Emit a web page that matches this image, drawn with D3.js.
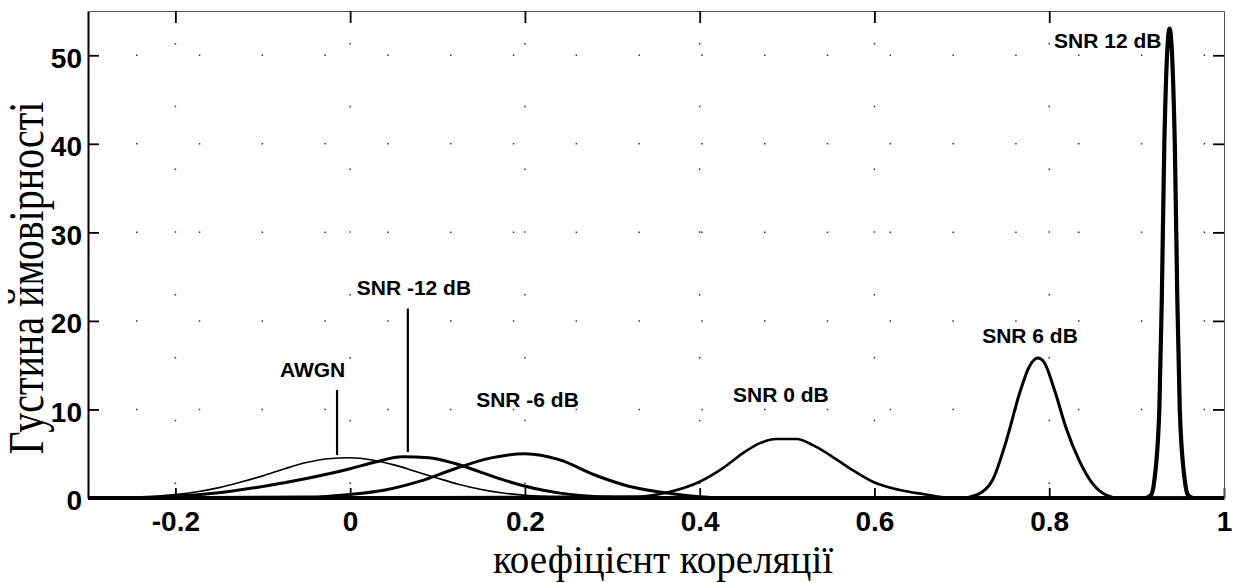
<!DOCTYPE html>
<html>
<head>
<meta charset="utf-8">
<script src="https://cdn.jsdelivr.net/npm/d3@7"></script>
<style>
  body { margin: 0; background: #fff; }
  svg { display: block; }
</style>
</head>
<body>
<div id="chart"></div>
<script>
// tick values
var xTicks = [-0.2, 0, 0.2, 0.4, 0.6, 0.8, 1];
var xTickLabels = ["-0.2", "0", "0.2", "0.4", "0.6", "0.8", "1"];
var yTicks = [0, 10, 20, 30, 40, 50];

// density curves, [correlation, density] pairs
var awgn = [[-0.3, 0], [-0.24, 0.13], [-0.2, 0.38], [-0.175, 0.7], [-0.15, 1.17], [-0.125, 1.8],
  [-0.1, 2.5], [-0.075, 3.3], [-0.05, 4.0], [-0.025, 4.43], [0, 4.54], [0.025, 4.3],
  [0.05, 3.74], [0.075, 3.0], [0.1, 2.24], [0.125, 1.52], [0.15, 0.96], [0.175, 0.56],
  [0.2, 0.3], [0.25, 0.07], [0.3, 0], [1, 0]];
var snrM12 = [[-0.3, 0], [-0.22, 0.05], [-0.2, 0.2], [-0.15, 0.6], [-0.1, 1.3], [-0.05, 2.2],
  [0, 3.3], [0.03, 4.1], [0.06, 4.65], [0.09, 4.55], [0.12, 3.9], [0.15, 2.9], [0.18, 1.9],
  [0.21, 1.1], [0.24, 0.55], [0.27, 0.22], [0.3, 0.07], [0.33, 0], [1, 0]];
var snrM6 = [[-0.3, 0], [-0.05, 0.1], [0, 0.4], [0.04, 0.9], [0.08, 1.9], [0.12, 3.3],
  [0.16, 4.5], [0.2, 5.0], [0.24, 4.3], [0.28, 2.6], [0.32, 1.3], [0.36, 0.6], [0.4, 0.15],
  [0.43, 0], [1, 0]];
var snr0 = [[-0.3, 0], [0.33, 0.15], [0.366, 0.7], [0.4, 1.84], [0.427, 3.4], [0.45, 5.1],
  [0.469, 6.2], [0.488, 6.66], [0.511, 6.66], [0.529, 6.0], [0.549, 4.85], [0.571, 3.4],
  [0.598, 1.84], [0.629, 0.9], [0.655, 0.45], [0.69, 0], [1, 0]];
var snr6 = [[-0.3, 0], [0.7, 0], [0.717, 0.34], [0.735, 2.0], [0.751, 6.5], [0.766, 11.8],
  [0.777, 14.8], [0.787, 15.8], [0.794, 15.35], [0.806, 12.2], [0.819, 8.0], [0.834, 4.3],
  [0.849, 1.7], [0.865, 0.34], [0.88, 0], [1, 0]];
var snr12 = [[-0.3, 0], [0.91, 0], [0.9163, 0.3], [0.9203, 2], [0.926, 10], [0.9288, 22.3],
  [0.9317, 40], [0.9377, 53], [0.9437, 40], [0.9466, 22.3], [0.9494, 10], [0.9551, 2],
  [0.959, 0.3], [0.965, 0], [1, 0]];

// annotations: text, x, y (data units)
var labels = [
  ["AWGN", -0.043, 13.65],
  ["SNR -12 dB", 0.073, 22.9],
  ["SNR -6 dB", 0.203, 10.3],
  ["SNR 0 dB", 0.493, 10.8],
  ["SNR 6 dB", 0.778, 17.5],
  ["SNR 12 dB", 0.867, 50.8]
];
// pointer lines: x, top, bottom (data units)
var pointers = [[-0.015, 12.2, 4.85], [0.066, 21.4, 5.2]];

var margin = {top: 11, right: 15, bottom: 85, left: 88},
    width = 1239 - margin.left - margin.right,
    height = 583 - margin.top - margin.bottom;

var svg = d3.select("#chart")
  .append("svg")
    .attr("width", 1239)
    .attr("height", 583)
  .append("g")
    .attr("transform", "translate(" + margin.left + "," + margin.top + ")");

var x = d3.scaleLinear().domain([-0.3, 1]).range([0, width]);
var y = d3.scaleLinear().domain([0, 55]).range([height, 0]);

// dotted grid
svg.append("g")
  .selectAll("line")
  .data(yTicks.slice(1))
  .enter()
  .append("line")
    .attr("x1", 0).attr("x2", width)
    .attr("y1", function(d) { return y(d); })
    .attr("y2", function(d) { return y(d); })
    .attr("stroke", "#333")
    .attr("stroke-width", 1.5)
    .attr("stroke-dasharray", "1.5,61.3")
    .attr("stroke-dashoffset", -48);
svg.append("g")
  .selectAll("line")
  .data(xTicks.slice(0, -1))
  .enter()
  .append("line")
    .attr("x1", function(d) { return x(d); })
    .attr("x2", function(d) { return x(d); })
    .attr("y1", height).attr("y2", 0)
    .attr("stroke", "#333")
    .attr("stroke-width", 1.5)
    .attr("stroke-dasharray", "1.5,61.3")
    .attr("stroke-dashoffset", -14);

// axes, ticks pointing inside
var xAxis = svg.append("g")
  .attr("transform", "translate(0," + height + ")")
  .call(d3.axisBottom(x).tickValues(xTicks)
    .tickFormat(function(d, i) { return xTickLabels[i]; })
    .tickSizeInner(-10).tickSizeOuter(0));
xAxis.selectAll("text")
  .attr("y", 33).attr("dy", 0);

var yAxis = svg.append("g")
  .call(d3.axisLeft(y).tickValues(yTicks).tickSizeInner(-11).tickSizeOuter(0));
yAxis.selectAll("text")
  .attr("x", -6).attr("dy", "0.42em");

svg.append("g")
  .call(d3.axisTop(x).tickValues(xTicks.slice(0, -1)).tickFormat("").tickSizeInner(-12).tickSizeOuter(0))
  .select(".domain").attr("stroke", "#555");
svg.append("g")
  .attr("transform", "translate(" + width + ",0)")
  .call(d3.axisRight(y).tickValues(yTicks.slice(1)).tickFormat("").tickSizeInner(-11).tickSizeOuter(0))
  .select(".domain").attr("stroke", "#555");

svg.selectAll(".tick line").attr("stroke", "#000").attr("stroke-width", 1.8);
svg.selectAll(".tick text")
  .style("font-family", "Liberation Sans, Arial, sans-serif")
  .style("font-weight", "bold")
  .style("font-size", "28px")
  .attr("fill", "#000");
yAxis.select(".domain").attr("stroke-width", 2);
xAxis.select(".domain").attr("stroke-width", 3);

// curves
var line = d3.line()
  .x(function(d) { return x(d[0]); })
  .y(function(d) { return y(d[1]); })
  .curve(d3.curveMonotoneX);

var curves = [[awgn, 1.6], [snrM12, 3], [snrM6, 3], [snr0, 2.6], [snr6, 3], [snr12, 4.2]];
svg.append("g")
  .selectAll("path")
  .data(curves)
  .enter()
  .append("path")
    .attr("d", function(d) { return line(d[0]); })
    .attr("fill", "none")
    .attr("stroke", "#000")
    .attr("stroke-width", function(d) { return d[1]; })
    .attr("stroke-linejoin", "round");

// pointer lines
svg.append("g")
  .selectAll("line")
  .data(pointers)
  .enter()
  .append("line")
    .attr("x1", function(d) { return x(d[0]); })
    .attr("x2", function(d) { return x(d[0]); })
    .attr("y1", function(d) { return y(d[1]); })
    .attr("y2", function(d) { return y(d[2]); })
    .attr("stroke", "#000")
    .attr("stroke-width", 2.2);

// curve labels
svg.append("g")
  .selectAll("text")
  .data(labels)
  .enter()
  .append("text")
    .attr("x", function(d) { return x(d[1]); })
    .attr("y", function(d) { return y(d[2]); })
    .attr("text-anchor", "middle")
    .style("font-family", "Liberation Sans, Arial, sans-serif")
    .style("font-weight", "bold")
    .style("font-size", "21px")
    .text(function(d) { return d[0]; });

// axis titles
svg.append("text")
  .attr("x", width / 2 + 7)
  .attr("y", height + 75)
  .attr("text-anchor", "middle")
  .style("font-family", "Liberation Serif, Times New Roman, serif")
  .style("font-size", "39px")
  .text("коефіцієнт кореляції");

svg.append("text")
  .attr("transform", "translate(" + (43 - margin.left) + "," + (278 - margin.top) + ") rotate(-90) scale(1,1.25)")
  .attr("text-anchor", "middle")
  .style("font-family", "Liberation Serif, Times New Roman, serif")
  .style("font-size", "40px")
  .text("Густина ймовірності");
</script>
</body>
</html>
